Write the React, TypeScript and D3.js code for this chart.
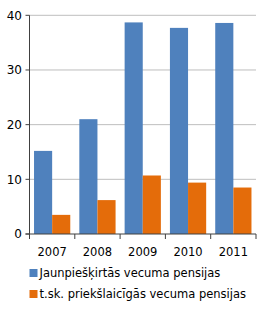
import React from 'react';
import * as d3 from 'd3';

const width = 266;
const height = 312;

const years = ['2007', '2008', '2009', '2010', '2011'];
const newPensions = [15.2, 21.0, 38.7, 37.7, 38.6];
const earlyPensions = [3.5, 6.2, 10.7, 9.4, 8.5];
const seriesNames = ['Jaunpiešķirtās vecuma pensijas', 't.sk. priekšlaicīgās vecuma pensijas'];
const seriesColors = ['#4F81BD', '#E46C0A'];
const yTicks = [0, 10, 20, 30, 40];

const left = 29.5;
const right = 256;
const top = 15.3;
const bottom = 234;

const x = d3.scaleBand().domain(years).range([left, right]).paddingInner(0.2).paddingOuter(0.1);
const inner = d3.scaleBand().domain(['0', '1']).range([0, x.bandwidth()]);
const y = d3.scaleLinear().domain([0, 40]).range([bottom, top]);

const font = 'Verdana, "DejaVu Sans", sans-serif';

const App = () => {
  const series = [newPensions, earlyPensions];
  const edges = d3.range(years.length + 1).map(i => left + (i * (right - left)) / years.length);
  return (
    <svg width={width} height={height} style={{ position: 'absolute', left: 0, top: 0 }}>
      <rect width={width} height={height} fill="#fff" />
      {yTicks.filter(t => t > 0).map(t => (
        <line key={t} x1={left} x2={right} y1={y(t)} y2={y(t)} stroke="#BEBEBE" strokeWidth={1} />
      ))}
      {series.map((vals, s) =>
        vals.map((v, i) => (
          <rect
            key={`${s}-${i}`}
            x={(x(years[i]) as number) + (inner(String(s)) as number)}
            y={y(v)}
            width={inner.bandwidth()}
            height={y(0) - y(v)}
            fill={seriesColors[s]}
          />
        ))
      )}
      <line x1={left} x2={left} y1={top} y2={bottom} stroke="#404040" />
      <line x1={left - 4} x2={right} y1={bottom} y2={bottom} stroke="#404040" />
      {yTicks.map(t => (
        <g key={t}>
          <line x1={left - 4} x2={left} y1={y(t)} y2={y(t)} stroke="#404040" />
          <text x={22} y={y(t)} dy="0.35em" textAnchor="end" fontFamily={font} fontSize={12} fill="#000">
            {t}
          </text>
        </g>
      ))}
      {edges.map((e, i) => (
        <line key={i} x1={e} x2={e} y1={bottom} y2={bottom + 5} stroke="#404040" />
      ))}
      {years.map(yr => (
        <text key={yr} x={(x(yr) as number) + x.bandwidth() / 2} y={256} textAnchor="middle" fontFamily={font} fontSize={11.5} fill="#000">
          {yr}
        </text>
      ))}
      {seriesNames.map((name, i) => (
        <g key={name} transform={`translate(29.5, ${267 + i * 21})`}>
          <rect x={0} y={2} width={8} height={8} fill={seriesColors[i]} />
          <text x={10} y={10} fontFamily={font} fontSize={11.5} fill="#000">
            {name}
          </text>
        </g>
      ))}
    </svg>
  );
};

export default App;
